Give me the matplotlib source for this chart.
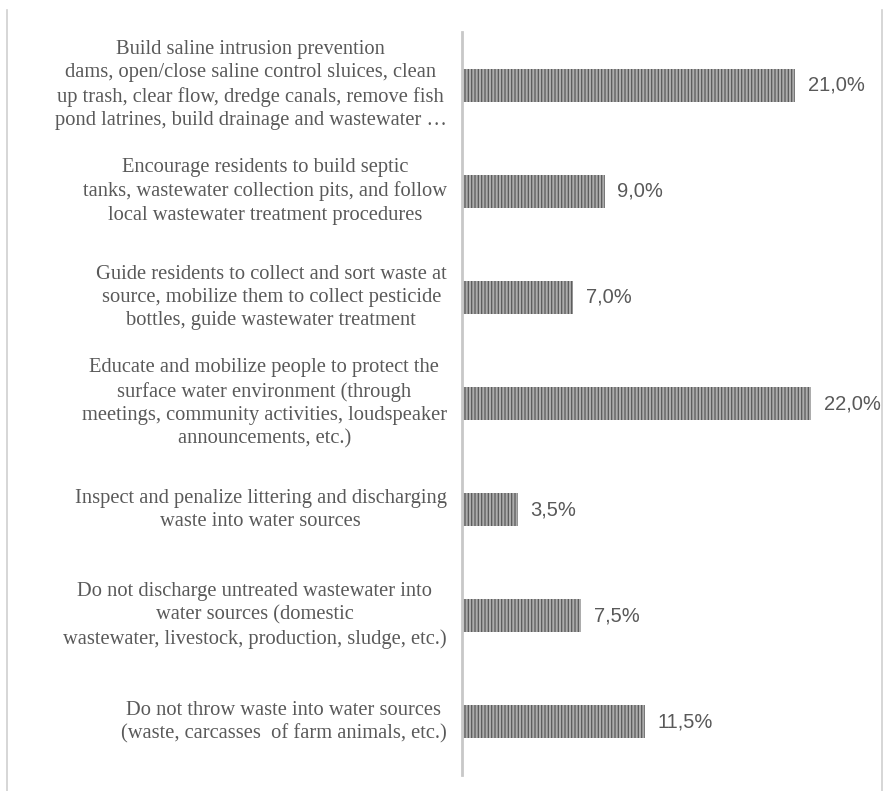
import numpy as np
import matplotlib
matplotlib.use("Agg")
import matplotlib.pyplot as plt
from matplotlib.lines import Line2D

measures = [
    "Build saline intrusion prevention\ndams, open/close saline control sluices, clean\nup trash, clear flow, dredge canals, remove fish\npond latrines, build drainage and wastewater \u2026",
    "Encourage residents to build septic\ntanks, wastewater collection pits, and follow\nlocal wastewater treatment procedures",
    "Guide residents to collect and sort waste at\nsource, mobilize them to collect pesticide\nbottles, guide wastewater treatment",
    "Educate and mobilize people to protect the\nsurface water environment (through\nmeetings, community activities, loudspeaker\nannouncements, etc.)",
    "Inspect and penalize littering and discharging\nwaste into water sources",
    "Do not discharge untreated wastewater into\nwater sources (domestic\nwastewater, livestock, production, sludge, etc.)",
    "Do not throw waste into water sources\n(waste, carcasses  of farm animals, etc.)",
]
shares = [21.0, 9.0, 7.0, 22.0, 3.5, 7.5, 11.5]
share_labels = ["21,0%", "9,0%", "7,0%", "22,0%", "3,5%", "7,5%", "11,5%"]

plt.rcParams["hatch.linewidth"] = 0.9
text_color = "#595959"

fig = plt.figure(figsize=(8.85, 7.91), dpi=100)
# axes placed so the value axis sits at x=462px
ax = fig.add_axes([462 / 885, 1 - 775 / 791, 408 / 885, 743 / 791])

y = np.arange(len(shares))
ax.barh(y, shares, height=0.31, color="#acacac", edgecolor="#5a5a5a",
        linewidth=0, hatch="|||||")
ax.set_ylim(len(shares) - 0.5, -0.5)
ax.set_xlim(0, 25.7)

for yi, v, lab in zip(y, shares, share_labels):
    ax.annotate(lab, (v, yi), xytext=(9, 0), textcoords="offset points",
                ha="left", va="center", fontsize=14.5, color=text_color,
                family="Liberation Sans")

for yi, txt in zip(y, measures):
    ax.annotate(txt, (0, yi), xytext=(-11, 0), textcoords="offset points",
                ha="right", va="center", multialignment="center",
                fontsize=14.8, color=text_color, family="Liberation Serif",
                linespacing=1.3)

for s in ["top", "right", "bottom"]:
    ax.spines[s].set_visible(False)
ax.spines["left"].set_color("#c8c8c8")
ax.spines["left"].set_linewidth(2)
ax.set_xticks([])
ax.set_yticks([])

# outer frame of the chart area
fig.add_artist(Line2D([7 / 885, 7 / 885], [0, 1 - 10 / 791], color="#d0d0d0", lw=1.2))
fig.add_artist(Line2D([882 / 885, 882 / 885], [0, 1 - 10 / 791], color="#d0d0d0", lw=1.2))

fig.savefig("out.png", dpi=100)
